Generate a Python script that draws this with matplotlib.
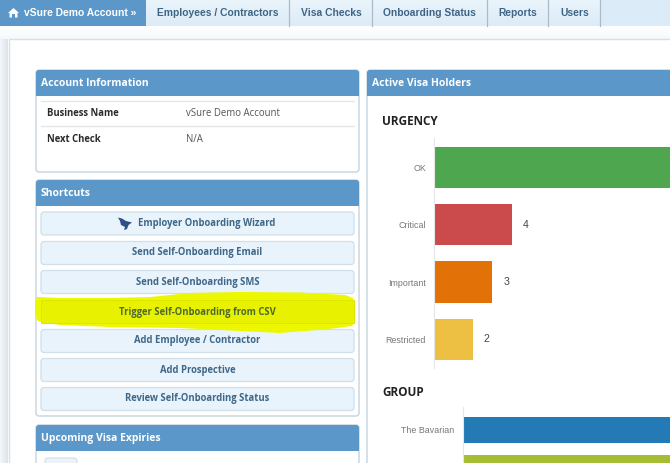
import matplotlib
matplotlib.use('Agg')
import matplotlib.pyplot as plt
import numpy as np
from matplotlib.patches import FancyBboxPatch, Polygon, Rectangle

# Data
urgency_labels = ['OK', 'Critical', 'Important', 'Restricted']
urgency_values = [14, 4, 3, 2]
urgency_colors = ['#4ea64f', '#cb4b4d', '#e27208', '#edbf42']
group_labels = ['The Bavarian', '']
group_values = [14, 14]
group_colors = ['#237ab5', '#a4bd33']

nav_tabs = ['Employees / Contractors', 'Visa Checks', 'Onboarding Status', 'Reports', 'Users']
shortcuts = ['Employer Onboarding Wizard', 'Send Self-Onboarding Email', 'Send Self-Onboarding SMS',
             'Trigger Self-Onboarding from CSV', 'Add Employee / Contractor', 'Add Prospective',
             'Review Self-Onboarding Status']

W, H = 670, 463
BLUE = '#5b98c9'
plt.rcParams['font.family'] = ['Open Sans', 'DejaVu Sans']

fig = plt.figure(figsize=(W / 100, H / 100), dpi=100, facecolor='white')

# page layer, in pixels from the top left
bg = fig.add_axes([0, 0, 1, 1])
bg.set_xlim(0, W)
bg.set_ylim(H, 0)
bg.axis('off')


def gradient(x0, x1, y0, y1, c0, c1, horizontal=False, z=1):
    a = np.array(matplotlib.colors.to_rgb(c0))
    b = np.array(matplotlib.colors.to_rgb(c1))
    t = np.linspace(0, 1, 32)[:, None]
    img = a + (b - a) * t
    img = img[None, :, :] if horizontal else img[:, None, :]
    bg.imshow(img, extent=[x0, x1, y1, y0], aspect='auto', zorder=z, interpolation='bilinear')


def rounded(x0, y0, x1, y1, fc, ec='none', r=3, lw=1, z=2):
    bg.add_patch(FancyBboxPatch((x0 + r, y0 + r), x1 - x0 - 2 * r, y1 - y0 - 2 * r,
                                boxstyle=f'round,pad={r},rounding_size={r}',
                                fc=fc, ec=ec, lw=lw, zorder=z))


def panel(x0, y0, x1, y1, title):
    rounded(x0, y0, x1, y1, 'white', ec='#c3d3df', lw=1, z=2)
    rounded(x0, y0, x1, y0 + 26, BLUE, z=3)
    bg.add_patch(Rectangle((x0, y0 + 12), x1 - x0, 14, fc=BLUE, ec='none', zorder=3))
    bg.text(x0 + 5, y0 + 13, title, color='white', fontsize=7.45, fontweight='bold',
            va='center', zorder=4)


# background and nav
gradient(0, 8, 26, H, '#f4f8fc', '#dbe3ea', horizontal=True)
gradient(0, W, 26, 39, '#ffffff', '#f6f9fb')
bg.add_patch(Rectangle((8.5, 38.5), W, H, fc='white', ec='#d5e0e7', lw=1, zorder=1.5))

gradient(146, 600, 0, 26, '#eaf4fb', '#dcebf7')
bg.add_patch(Rectangle((600, 0), W - 600, 26, fc='#dcebf8', ec='none', zorder=1))
bg.add_patch(Rectangle((0, 0), 146, 26, fc=BLUE, ec='none', zorder=2))
# house icon
bg.add_patch(Polygon([(8, 13), (13.5, 8), (19, 13), (17.5, 13), (17.5, 17.5), (15, 17.5), (15, 14),
                      (12, 14), (12, 17.5), (9.5, 17.5), (9.5, 13)], fc='white', ec='none', zorder=3))
bg.text(23.5, 13, 'vSure Demo Account »', color='white', fontsize=7.4, fontweight='bold',
        family=['Liberation Sans', 'DejaVu Sans'], va='center', zorder=3)
tab_x = [157, 301, 383, 498, 560]
for x, t in zip(tab_x, nav_tabs):
    bg.text(x, 13, t, color='#3c6585', fontsize=7.35, fontweight='bold',
            family=['Liberation Sans', 'DejaVu Sans'], va='center', zorder=3)
for x in [289, 372, 487, 548, 600]:
    bg.plot([x, x], [0, 26], color='#a9bcc9', lw=0.9, zorder=3)

# account panel
panel(36, 70, 359, 172, 'Account Information')
for y in [101, 126]:
    bg.plot([41, 354], [y, y], color='#e3e7ea', lw=1, zorder=3)
bg.text(47, 114, 'Business Name', color='#2b2b2b', fontsize=6.85, fontweight='bold', va='center', zorder=4)
bg.text(186, 114, 'vSure Demo Account', color='#555555', fontsize=6.95, va='center', zorder=4)
bg.text(47, 140, 'Next Check', color='#2b2b2b', fontsize=6.85, fontweight='bold', va='center', zorder=4)
bg.text(186, 140, 'N/A', color='#555555', fontsize=6.95, va='center', zorder=4)

# shortcuts panel
panel(36, 180, 359, 416, 'Shortcuts')
btn_y = [223.5, 253, 282, 312, 341, 370, 399]
for i, (yc, t) in enumerate(zip(btn_y, shortcuts)):
    rounded(41, yc - 11.5, 354, yc + 11.5, '#e9f3fb', ec='#cfdfeb', lw=0.9, z=4)
    cx = 206.5 if i == 0 else 197.5
    tc = '#4e6a2c' if i == 3 else '#3f6788'
    bg.text(cx, yc, t, color=tc, fontsize=6.87, fontweight='bold', ha='center', va='center', zorder=7)

# bird icon on the wizard button
bg.add_patch(Polygon([(118, 217.5), (122, 218.5), (126, 221), (132, 222.5), (128.5, 225), (127, 229),
                      (124, 230), (125, 227), (121, 225), (120, 221)], fc='#2f4f86', ec='none', zorder=7))

# yellow highlighter stroke
bg.add_patch(Polygon([(37, 297), (60, 298), (110, 298), (150, 297), (190, 293), (240, 292), (300, 292.5),
                      (345, 295), (353, 298), (355, 304), (355, 322), (352, 326), (330, 329), (280, 333),
                      (240, 331), (180, 328), (110, 327), (60, 325), (38, 321), (35, 315), (35, 302)],
                     fc='#edf700', ec='none', zorder=5))
bg.add_patch(Rectangle((41, 300), 313, 23, fc='#e8f200', ec='#dbe400', lw=0.6, zorder=5.5))

# upcoming panel
panel(36, 425, 359, 490, 'Upcoming Visa Expiries')
rounded(45, 458, 77, 480, '#edf3f8', ec='#d5e0e7', lw=0.9, z=4)

# visa holders panel
panel(367, 70, 700, 490, 'Active Visa Holders')
bg.text(382, 121.5, 'URGENCY', color='#222222', fontsize=8.5, fontweight='bold', va='center', zorder=4)
bg.text(382, 393, 'GROUP', color='#222222', fontsize=8.5, fontweight='bold', va='center', zorder=4)


def chart_axes(x0, x1, y0, y1):
    ax = fig.add_axes([x0 / W, 1 - y1 / H, (x1 - x0) / W, (y1 - y0) / H], zorder=5)
    ax.patch.set_alpha(0)
    for s in ['top', 'right', 'bottom']:
        ax.spines[s].set_visible(False)
    ax.spines['left'].set_color('#e6e6e6')
    ax.xaxis.set_visible(False)
    ax.tick_params(axis='y', length=0, pad=5.8, labelsize=6.4, labelcolor='#777777')
    return ax


# urgency bars, one value unit is 19.4 px
ax = chart_axes(434, W, 138, 368)
y_pos = np.arange(len(urgency_labels))
ax.barh(y_pos, urgency_values, height=0.72, color=urgency_colors)
ax.set_yticks(y_pos, urgency_labels, family=['Liberation Sans'])
ax.set_xlim(0, (W - 434) / 19.4)
ax.set_ylim(3.5, -0.515)
for y, v in zip(y_pos, urgency_values):
    if v < 10:
        ax.annotate(str(v), (v, y), xytext=(8, 0), textcoords='offset points', va='center',
                    fontsize=7.6, color='#444444', family='Liberation Sans')

# group bars
ax2 = chart_axes(462.5, W, 407, 493)
gy = np.arange(len(group_labels))
ax2.barh(gy, group_values, height=0.71, color=group_colors)
ax2.set_yticks(gy, group_labels, family=['Liberation Sans'])
ax2.set_xlim(0, (W - 462.5) / 19.4)
ax2.set_ylim(1.658, -0.605)

bg.set_xlim(0, W)
bg.set_ylim(H, 0)
fig.savefig('out.png', dpi=100)
